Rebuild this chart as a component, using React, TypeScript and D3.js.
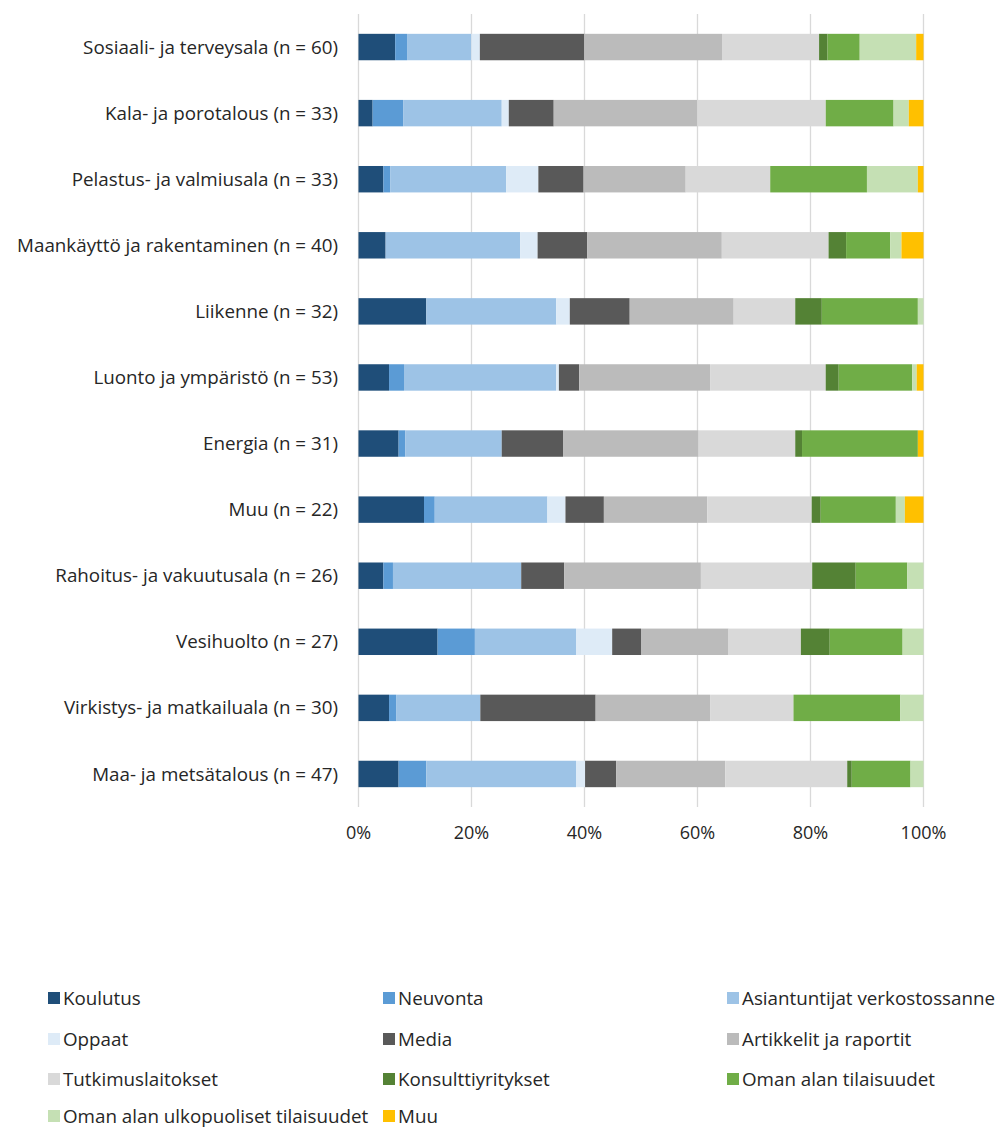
import React from "react";
import * as d3 from "d3";

const categories = [
  "Sosiaali- ja terveysala (n = 60)",
  "Kala- ja porotalous (n = 33)",
  "Pelastus- ja valmiusala (n = 33)",
  "Maankäyttö ja rakentaminen (n = 40)",
  "Liikenne (n = 32)",
  "Luonto ja ympäristö (n = 53)",
  "Energia (n = 31)",
  "Muu (n = 22)",
  "Rahoitus- ja vakuutusala (n = 26)",
  "Vesihuolto (n = 27)",
  "Virkistys- ja matkailuala (n = 30)",
  "Maa- ja metsätalous (n = 47)",
];

const seriesNames = [
  "Koulutus",
  "Neuvonta",
  "Asiantuntijat verkostossanne",
  "Oppaat",
  "Media",
  "Artikkelit ja raportit",
  "Tutkimuslaitokset",
  "Konsulttiyritykset",
  "Oman alan tilaisuudet",
  "Oman alan ulkopuoliset tilaisuudet",
  "Muu",
];

const seriesColors = [
  "#1F4E79",
  "#5B9BD5",
  "#9DC3E6",
  "#DEEBF7",
  "#595959",
  "#BBBBBB",
  "#D9D9D9",
  "#548235",
  "#70AD47",
  "#C5E0B4",
  "#FFC000",
];

// values per category, in series order (percent)
const koulutus = [6.5, 2.5, 4.4, 4.8, 12.0, 5.4, 7.1, 11.6, 4.4, 14.0, 5.4, 7.1];
const neuvonta = [2.1, 5.4, 1.2, 0, 0, 2.65, 1.2, 1.9, 1.7, 6.6, 1.25, 4.9];
const asiantuntijat = [11.4, 17.45, 20.5, 23.8, 23.0, 26.9, 17.05, 19.95, 22.7, 17.9, 14.9, 26.5];
const oppaat = [1.5, 1.25, 5.7, 3.1, 2.4, 0.5, 0, 3.2, 0, 6.4, 0, 1.6];
const media = [18.5, 7.95, 8.0, 8.8, 10.6, 3.6, 10.85, 6.8, 7.6, 5.1, 20.4, 5.5];
const artikkelit = [24.4, 25.4, 18.05, 23.8, 18.4, 23.15, 24.0, 18.3, 24.2, 15.5, 20.25, 19.3];
const tutkimus = [17.2, 22.75, 14.95, 18.9, 10.9, 20.45, 17.1, 18.5, 19.7, 12.8, 14.75, 21.6];
const konsultit = [1.5, 0, 0, 3.1, 4.7, 2.3, 1.2, 1.6, 7.7, 5.1, 0, 0.8];
const omanAlan = [5.7, 12.0, 17.1, 7.8, 17.0, 13.0, 20.5, 13.3, 9.1, 12.9, 18.9, 10.4];
const ulkopuoliset = [10.0, 2.7, 9.0, 2.0, 1.0, 0.8, 0, 1.6, 2.9, 3.7, 4.1, 2.3];
const muu = [1.3, 2.6, 1.0, 3.9, 0, 1.2, 1.0, 3.3, 0, 0, 0, 0];

const seriesValues = [
  koulutus, neuvonta, asiantuntijat, oppaat, media, artikkelit,
  tutkimus, konsultit, omanAlan, ulkopuoliset, muu,
];

const tickValues = [0, 0.2, 0.4, 0.6, 0.8, 1.0];

const W = 999;
const H = 1131;
const FONT = "'Open Sans', 'Liberation Sans', Arial, sans-serif";
const FS = 18.8;

export default function App() {
  const x = d3.scaleLinear().domain([0, 1]).range([358.5, 923.5]);
  const y = d3.scaleBand<string>().domain(categories).range([14, 807]).paddingInner(0.6).paddingOuter(0.3);

  const rows = categories.map((c, i) => {
    const vals = seriesValues.map((s) => s[i]);
    const total = d3.sum(vals);
    let acc = 0;
    return vals.map((v, k) => {
      const x0 = acc / total;
      acc += v;
      const x1 = acc / total;
      return { c, k, x0, x1 };
    });
  });

  const legendCols = [48, 383, 727];
  const legendRows = [998, 1039, 1079, 1116];
  const fmt = d3.format(".0%");

  return (
    <svg width={W} height={H} style={{ display: "block", position: "absolute", left: 0, top: 0 }} fontFamily={FONT}>
      <rect width={W} height={H} fill="#fff" />
      {tickValues.map((t) => (
        <line key={t} x1={x(t)} x2={x(t)} y1={14} y2={807} stroke="#D9D9D9" strokeWidth={1.3} />
      ))}
      {rows.map((segs) =>
        segs.map((s) =>
          s.x1 - s.x0 > 0 ? (
            <rect
              key={s.c + s.k}
              x={x(s.x0)}
              y={y(s.c)!}
              width={x(s.x1) - x(s.x0)}
              height={y.bandwidth()}
              fill={seriesColors[s.k]}
            />
          ) : null
        )
      )}
      {categories.map((c) => (
        <text key={c} x={338} y={y(c)! + y.bandwidth() / 2} dy="0.35em" textAnchor="end" fontSize={FS} fill="#262626">
          {c}
        </text>
      ))}
      {tickValues.map((t) => (
        <text key={"t" + t} x={x(t)} y={833} dy="0.35em" textAnchor="middle" fontSize={18} fill="#262626">
          {fmt(t)}
        </text>
      ))}
      {seriesNames.map((n, i) => {
        const col = i % 3;
        const row = Math.floor(i / 3);
        const lx = legendCols[col];
        const ly = legendRows[row];
        return (
          <g key={n}>
            <rect x={lx} y={ly - 6} width={12} height={12} fill={seriesColors[i]} />
            <text x={lx + 15} y={ly} dy="0.35em" fontSize={FS} fill="#262626">
              {n}
            </text>
          </g>
        );
      })}
    </svg>
  );
}
